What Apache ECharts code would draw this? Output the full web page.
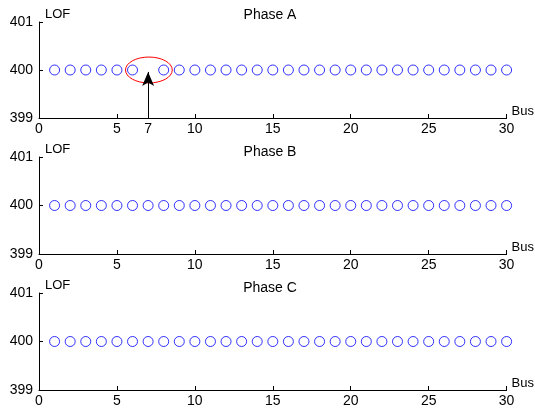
<!DOCTYPE html>
<html>
<head>
<meta charset="utf-8">
<script src="https://cdn.jsdelivr.net/npm/echarts@6/dist/echarts.min.js"></script>
<style>
  html, body { margin: 0; padding: 0; background: #fff; }
  #chart { width: 535px; height: 412px; }
</style>
</head>
<body>
<div id="chart"></div>
<script>
// bus numbers per phase (Phase A has bus 7 missing)
const busA = [1, 2, 3, 4, 5, 6, 8, 9, 10, 11, 12, 13, 14, 15, 16, 17, 18, 19, 20, 21, 22, 23, 24, 25, 26, 27, 28, 29, 30];
const lofA = [400, 400, 400, 400, 400, 400, 400, 400, 400, 400, 400, 400, 400, 400, 400, 400, 400, 400, 400, 400, 400, 400, 400, 400, 400, 400, 400, 400, 400];
const busB = [1, 2, 3, 4, 5, 6, 7, 8, 9, 10, 11, 12, 13, 14, 15, 16, 17, 18, 19, 20, 21, 22, 23, 24, 25, 26, 27, 28, 29, 30];
const lofB = [400, 400, 400, 400, 400, 400, 400, 400, 400, 400, 400, 400, 400, 400, 400, 400, 400, 400, 400, 400, 400, 400, 400, 400, 400, 400, 400, 400, 400, 400];
const busC = [1, 2, 3, 4, 5, 6, 7, 8, 9, 10, 11, 12, 13, 14, 15, 16, 17, 18, 19, 20, 21, 22, 23, 24, 25, 26, 27, 28, 29, 30];
const lofC = [400, 400, 400, 400, 400, 400, 400, 400, 400, 400, 400, 400, 400, 400, 400, 400, 400, 400, 400, 400, 400, 400, 400, 400, 400, 400, 400, 400, 400, 400];
const phaseTitles = ['Phase A', 'Phase B', 'Phase C'];
const xTicks = [0, 5, 10, 15, 20, 25, 30];
const xLabelsA = [0, 5, 7, 10, 15, 20, 25, 30];
const markedBus = 7;

const font = "'Liberation Sans', Arial, sans-serif";
const grids = [
  { left: 39, right: 27, top: 22, height: 96 },
  { left: 39, right: 27, top: 157, height: 97 },
  { left: 39, right: 27, top: 293, height: 97 }
];
const titleTops = [8, 145, 281];

const myChart = echarts.init(document.getElementById('chart'));

const xAxes = grids.map((g, i) => ({
  gridIndex: i,
  type: 'value',
  min: 0,
  max: 30,
  interval: 5,
  name: 'Bus',
  nameLocation: 'end',
  nameGap: 5,
  nameTextStyle: { color: '#000', fontSize: 13, fontFamily: font, align: 'left', verticalAlign: 'bottom' },
  axisLine: { lineStyle: { color: '#000', width: 1 } },
  axisTick: { inside: true, length: 4, lineStyle: { color: '#000' }, customValues: xTicks },
  axisLabel: {
    color: '#000', fontSize: 14, fontFamily: font, margin: 4,
    customValues: i === 0 ? xLabelsA : xTicks
  },
  splitLine: { show: false }
}));

const yAxes = grids.map((g, i) => ({
  gridIndex: i,
  type: 'value',
  min: 399,
  max: 401,
  interval: 1,
  name: 'LOF',
  nameLocation: 'end',
  nameGap: 1,
  nameTextStyle: { color: '#000', fontSize: 13, fontFamily: font, align: 'left', padding: [0, 0, 0, 6] },
  axisLine: { show: true, lineStyle: { color: '#000', width: 1 } },
  axisTick: { show: true, inside: true, length: 4, lineStyle: { color: '#000' } },
  axisLabel: { color: '#000', fontSize: 14, fontFamily: font, margin: 6 },
  splitLine: { show: false }
}));

const scatter = (bus, lof, i) => ({
  type: 'scatter',
  xAxisIndex: i,
  yAxisIndex: i,
  symbol: 'circle',
  symbolSize: 10,
  itemStyle: { color: 'rgba(0,0,0,0)', borderColor: '#0000ff', borderWidth: 1 },
  data: bus.map((b, k) => [b, lof[k]])
});

myChart.setOption({
  animation: false,
  backgroundColor: '#fff',
  title: phaseTitles.map((t, i) => ({
    text: t,
    left: 270,
    textAlign: 'center',
    top: titleTops[i],
    padding: 0,
    textStyle: { color: '#000', fontSize: 14, fontWeight: 'normal', fontFamily: font }
  })),
  grid: grids,
  xAxis: xAxes,
  yAxis: yAxes,
  series: [
    scatter(busA, lofA, 0),
    scatter(busB, lofB, 1),
    scatter(busC, lofC, 2),
    {
      // red ellipse around the missing bus + arrow pointing at it
      type: 'custom',
      xAxisIndex: 0,
      yAxisIndex: 0,
      silent: true,
      data: [[markedBus + 0.05, 400, 3.0, 0.54]],
      renderItem(params, api) {
        const c = api.coord([api.value(0), api.value(1)]);
        const s = api.size([api.value(2), api.value(3)]);
        return {
          type: 'ellipse',
          shape: { cx: c[0], cy: c[1], rx: s[0] / 2, ry: s[1] / 2 },
          style: { fill: 'none', stroke: '#ff0000', lineWidth: 1 }
        };
      },
      markLine: {
        silent: true,
        symbol: ['none', 'arrow'],
        symbolSize: [9, 14],
        label: { show: false },
        lineStyle: { color: '#000', width: 1, type: 'solid' },
        data: [[{ coord: [markedBus, 399] }, { coord: [markedBus, 399.96] }]]
      }
    }
  ]
});
</script>
</body>
</html>
